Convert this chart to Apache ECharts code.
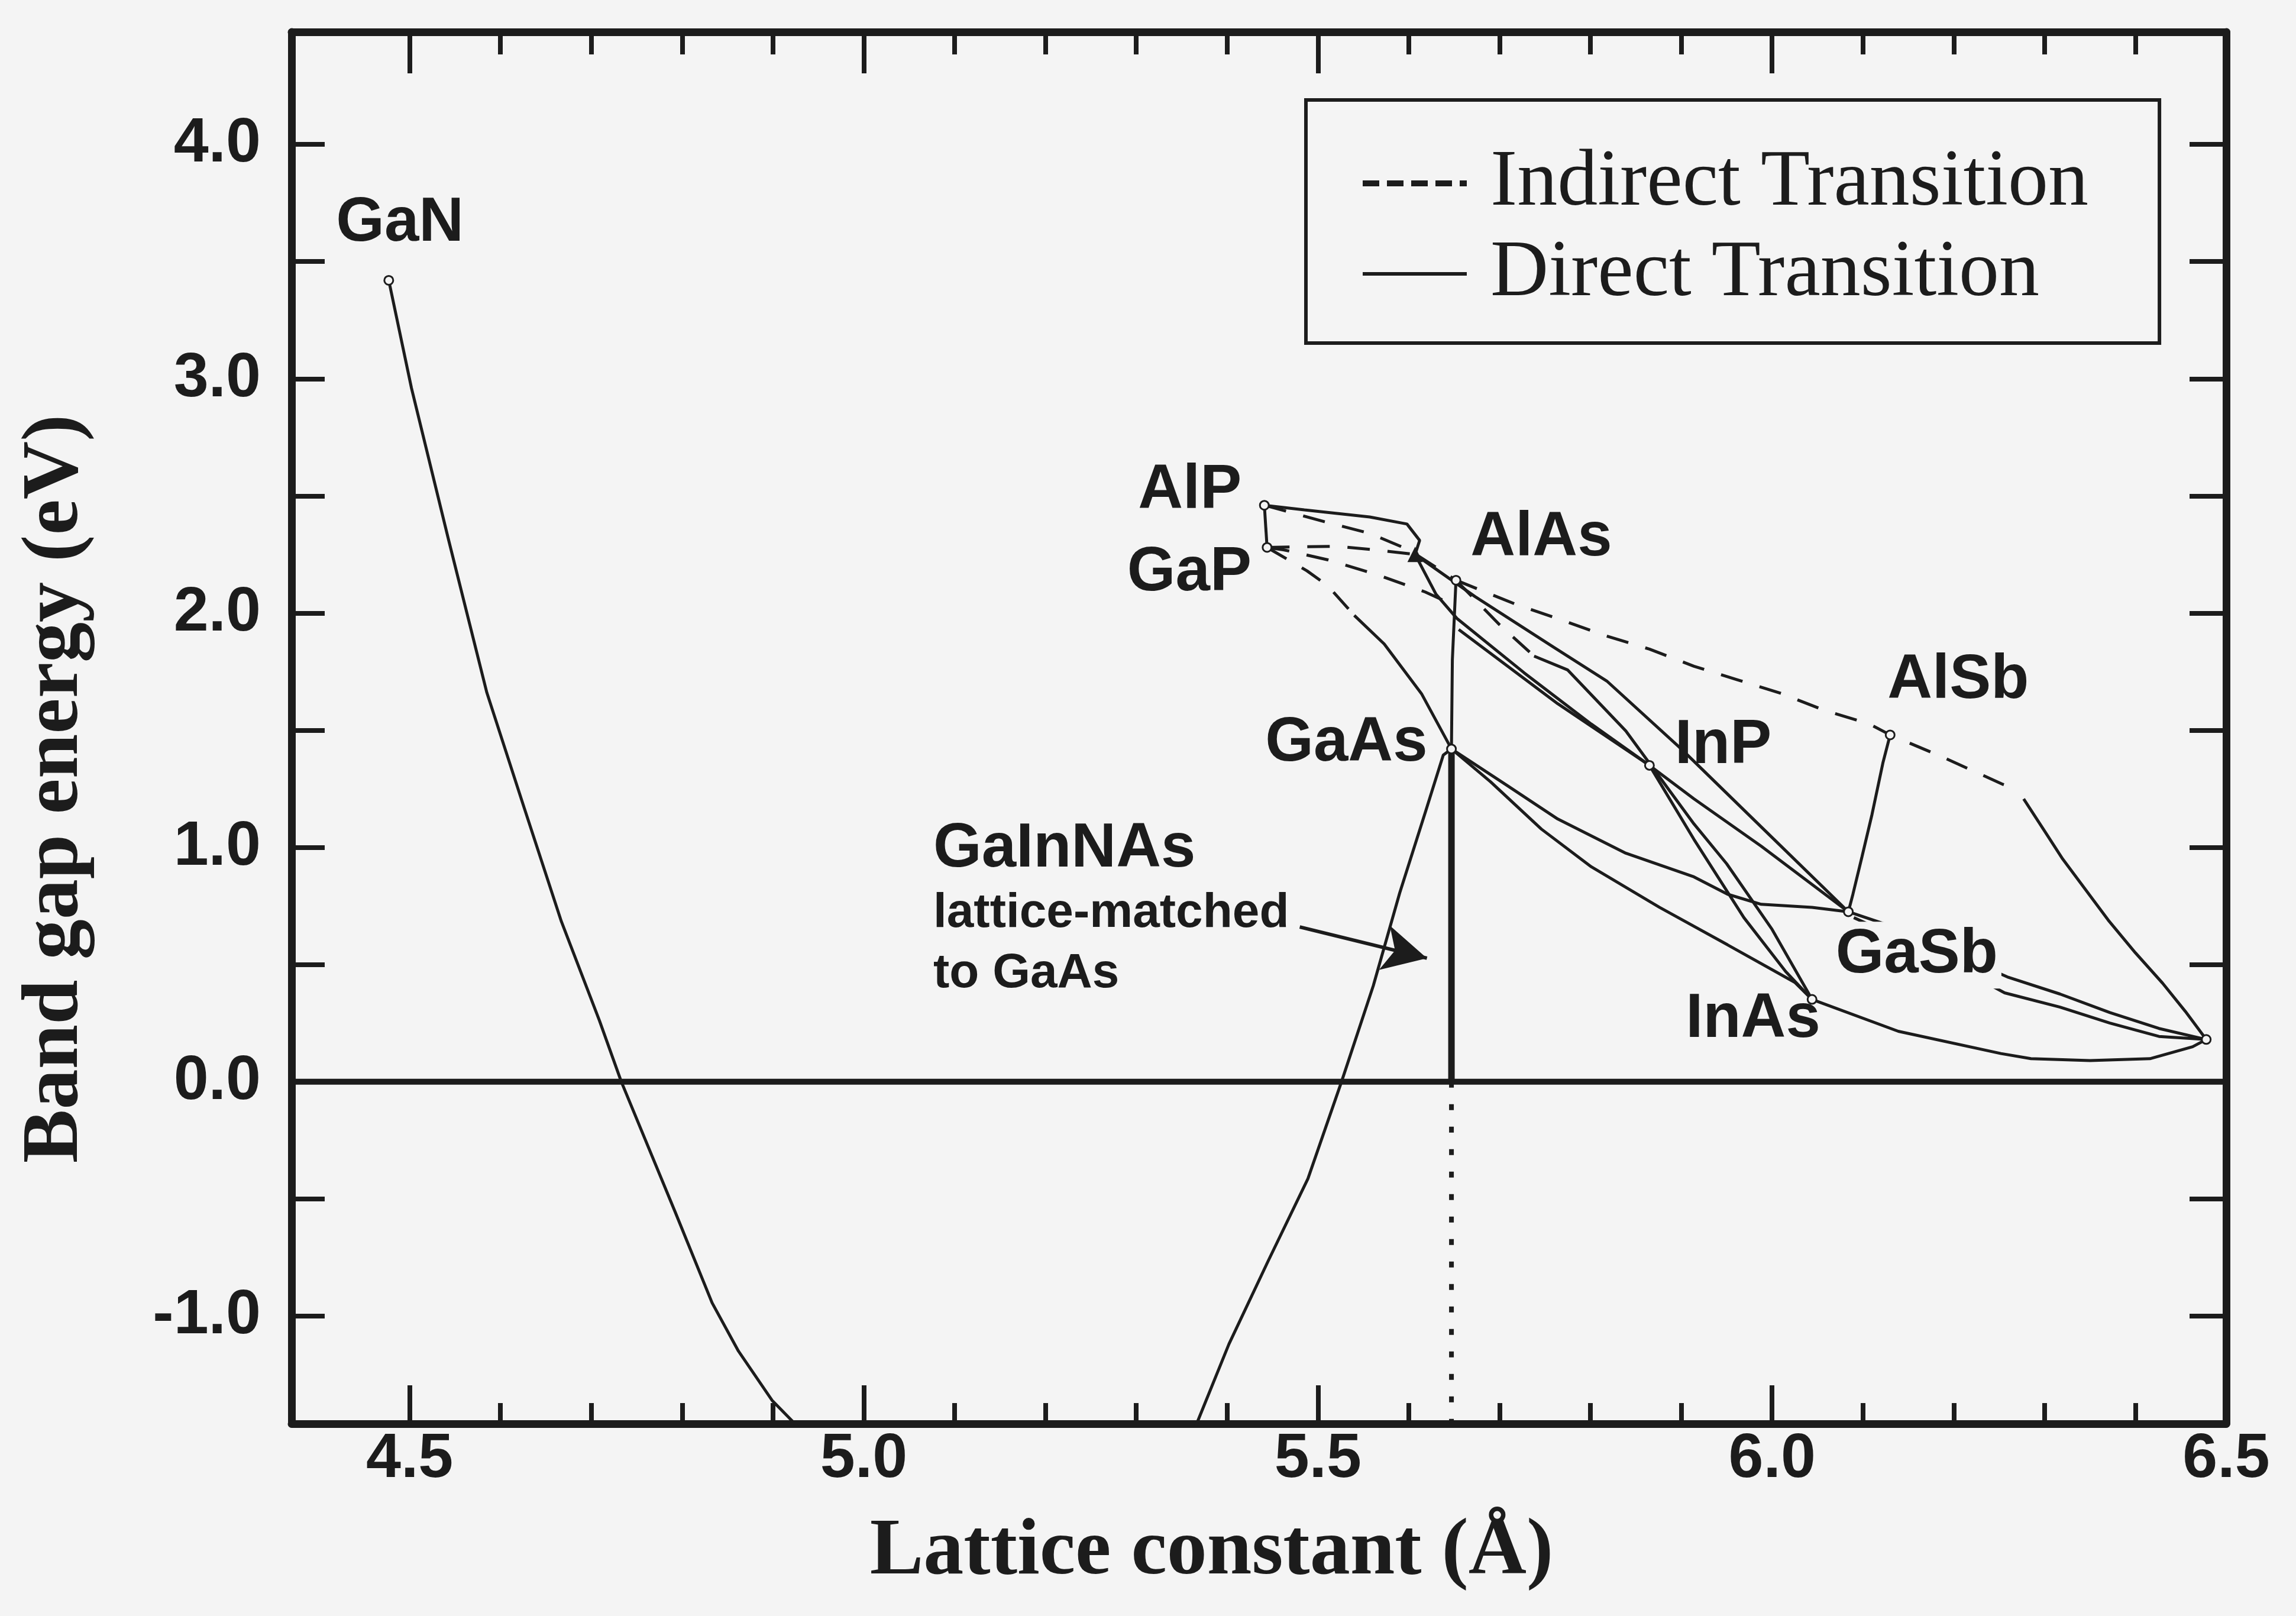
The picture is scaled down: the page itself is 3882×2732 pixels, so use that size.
<!DOCTYPE html>
<html><head><meta charset="utf-8">
<script src="https://cdn.jsdelivr.net/npm/echarts@6/dist/echarts.min.js"></script>
<style>html,body{margin:0;padding:0;background:#f4f4f4}#c{width:3882px;height:2732px}</style>
</head><body><div id="c"></div><script>
// ---------- axis ticks / labels ----------
const xTickMajor = [4.5, 5.0, 5.5, 6.0];
const xTickMinor = [4.6, 4.7, 4.8, 4.9, 5.1, 5.2, 5.3, 5.4, 5.6, 5.7, 5.8, 5.9, 6.1, 6.2, 6.3, 6.4];
const xLabelValues = [4.5, 5.0, 5.5, 6.0, 6.5];
const yTicks = [-1.0, -0.5, 0, 0.5, 1.0, 1.5, 2.0, 2.5, 3.0, 3.5, 4.0];
const yLabelValues = [-1.0, 0, 1.0, 2.0, 3.0, 4.0];

// ---------- curves (lattice constant Å, band gap eV) ----------
const ganSide = [[4.477,3.42],[4.502,2.96],[4.543,2.31],[4.585,1.66],[4.626,1.17],[4.667,0.684],[4.709,0.26],[4.733,0.0],[4.792,-0.553],[4.833,-0.944],[4.862,-1.15],[4.899,-1.36],[4.928,-1.475],[4.96,-1.57]];
const gaasSide = [[5.35,-1.62],[5.367,-1.455],[5.402,-1.12],[5.445,-0.767],[5.489,-0.414],[5.526,0.0],[5.561,0.41],[5.590,0.805],[5.619,1.159],[5.638,1.394],[5.647,1.42]];
const latticeMatched = [[5.647,0],[5.647,1.42]];
const latticeDotted = [[5.647,0],[5.647,-1.46]];
const zeroLine = [[4.37,0],[6.5,0]];
const alGaAs = [[5.647,1.42],[5.648,1.80],[5.652,2.14]];
const alAsAlSbIndirect = [[5.652,2.14],[5.720,2.034],[5.764,1.976],[5.816,1.904],[5.865,1.846],[5.914,1.773],[5.962,1.715],[6.010,1.657],[6.058,1.584],[6.107,1.527],[6.130,1.48],[6.188,1.385],[6.254,1.269],[6.272,1.245]];
const alInSb = [[6.277,1.207],[6.30,1.07],[6.32,0.95],[6.345,0.82],[6.37,0.69],[6.40,0.55],[6.43,0.42],[6.455,0.30],[6.478,0.18]];
const alGaSb = [[6.130,1.48],[6.122,1.36],[6.110,1.14],[6.099,0.96],[6.089,0.80],[6.084,0.725]];
const gaInSbA = [[6.084,0.725],[6.134,0.66],[6.259,0.447],[6.317,0.374],[6.372,0.295],[6.426,0.227],[6.478,0.18]];
const gaInSbB = [[6.09,0.70],[6.17,0.56],[6.256,0.379],[6.317,0.318],[6.372,0.25],[6.426,0.193],[6.478,0.18]];
const inAsSb = [[6.044,0.351],[6.139,0.215],[6.252,0.12],[6.285,0.098],[6.35,0.09],[6.416,0.098],[6.463,0.149],[6.478,0.18]];
const gaAsSb = [[5.647,1.42],[5.708,1.265],[5.764,1.121],[5.839,0.975],[5.914,0.874],[5.951,0.80],[5.988,0.757],[6.044,0.744],[6.084,0.725]];
const gaInAs = [[5.647,1.42],[5.690,1.28],[5.746,1.078],[5.801,0.917],[5.876,0.744],[5.951,0.584],[6.025,0.424],[6.044,0.351]];
const inAsP = [[5.865,1.35],[5.914,1.034],[5.969,0.70],[6.015,0.47],[6.044,0.351]];
const alInAsIndirect = [[5.652,2.14],[5.70,1.95],[5.738,1.816]];
const alInAs = [[5.738,1.816],[5.775,1.757],[5.839,1.497],[5.914,1.10],[5.95,0.93],[6.00,0.65],[6.044,0.351]];
const viaInP = [[5.655,1.93],[5.764,1.613],[5.865,1.35],[5.914,1.207],[5.988,1.005],[6.084,0.725]];
const toInP = [[5.607,2.25],[5.63,2.08],[5.653,1.977],[5.727,1.745],[5.801,1.526],[5.865,1.35]];
const toGaSb = [[5.607,2.25],[5.673,2.07],[5.76,1.853],[5.818,1.71],[5.90,1.42],[5.99,1.08],[6.084,0.725]];
const alpGap = [[5.441,2.46],[5.444,2.28]];
const alInP = [[5.441,2.46],[5.485,2.44],[5.557,2.41],[5.598,2.38],[5.612,2.31],[5.607,2.25]];
const gaAsPIndirect = [[5.444,2.28],[5.488,2.18],[5.511,2.116],[5.54,1.99]];
const gaAsP = [[5.54,1.99],[5.573,1.868],[5.614,1.656],[5.647,1.42]];
const gapAlAsIndirect = [[5.444,2.28],[5.462,2.27],[5.511,2.227],[5.568,2.16],[5.618,2.09],[5.652,2.03]];
const gaInPIndirect = [[5.444,2.28],[5.52,2.285],[5.567,2.268],[5.607,2.25]];
const alAsPIndirect = [[5.441,2.46],[5.507,2.39],[5.557,2.34],[5.60,2.27],[5.652,2.14]];

const binaryPoints = [[4.477,3.42],[5.441,2.46],[5.444,2.28],[5.652,2.14],[5.647,1.42],[5.865,1.35],[6.13,1.48],[6.084,0.725],[6.044,0.351],[6.478,0.18]];
const crossPoint = [[5.607,2.25]];

// ---------- text annotations: [text, left x, centre y] ----------
const compoundLabels = [['GaN',4.419,3.662],['AlP',5.302,2.52],['GaP',5.290,2.169],['AlAs',5.668,2.318],['AlSb',6.127,1.71],['InP',5.893,1.434],['GaAs',5.442,1.444],['GaSb',6.070,0.54],['InAs',5.905,0.265],['GaInNAs',5.0765,0.99]];
const noteLabels = [['lattice-matched',5.0765,0.717],['to GaAs',5.0765,0.46]];
const arrowFrom = [5.48, 0.66];
const arrowTo = [5.62, 0.527];

const INK = '#1c1c1c', BG = '#f4f4f4';
const indirectCurves = [alAsAlSbIndirect, alInAsIndirect, gaAsPIndirect, gapAlAsIndirect, gaInPIndirect, alAsPIndirect];
const directCurves = [ganSide, gaasSide, alGaAs, alInSb, alGaSb, gaInSbA, gaInSbB, inAsSb, gaAsSb, gaInAs, inAsP, alInAs, viaInP, toInP, toGaSb, alpGap, alInP, gaAsP];

const series = [];
indirectCurves.forEach(d => series.push({type:'line', name:'Indirect Transition', data:d, symbol:'none', clip:true,
  itemStyle:{color:INK}, lineStyle:{color:INK, width:5, type:[38,30]}}));
directCurves.forEach(d => series.push({type:'line', name:'Direct Transition', data:d, symbol:'none', clip:true,
  itemStyle:{color:INK}, lineStyle:{color:INK, width:5}}));
series.push({type:'line', name:'zero', data:zeroLine, symbol:'none', lineStyle:{color:INK, width:10}});
series.push({type:'line', name:'matched', data:latticeMatched, symbol:'none', lineStyle:{color:INK, width:11}});
series.push({type:'line', name:'dotted', data:latticeDotted, symbol:'none', lineStyle:{color:INK, width:8, type:[10,28]}});
series.push({type:'scatter', name:'points', data:binaryPoints, symbol:'circle', symbolSize:15,
  itemStyle:{color:BG, borderColor:INK, borderWidth:3, opacity:1}, z:4});
series.push({type:'scatter', name:'cross', data:crossPoint, symbol:'triangle', symbolSize:26, itemStyle:{color:INK, opacity:1}, z:4});
series.push({type:'line', name:'arrow', data:[], symbol:'none',
  markLine:{silent:true, symbol:['none','arrow'], symbolSize:[58,74], label:{show:false},
    itemStyle:{color:INK}, lineStyle:{color:INK, width:6, type:'solid'},
    data:[[{coord:arrowFrom},{coord:arrowTo}]]}});
series.push({type:'scatter', name:'labels', symbolSize:0, z:10, silent:true, itemStyle:{opacity:1, color:INK},
  data: compoundLabels.map(d => ({value:[d[1], d[2]], name:d[0],
    label: d[0]==='GaSb' ? {backgroundColor:BG, padding:[4,6,4,0]} : {}})),
  label:{show:true, position:'right', distance:0, formatter:'{b}', fontFamily:'Liberation Sans', fontWeight:'bold', fontSize:105, color:INK, opacity:1}});
series.push({type:'scatter', name:'notes', symbolSize:0, z:10, silent:true, itemStyle:{opacity:1, color:INK},
  data: noteLabels.map(d => ({value:[d[1], d[2]], name:d[0]})),
  label:{show:true, position:'right', distance:0, formatter:'{b}', fontFamily:'Liberation Sans', fontWeight:'bold', fontSize:82, color:INK, opacity:1}});

const axisLineStyle = {show:true, onZero:false, lineStyle:{color:INK, width:13}};
const xBase = {type:'value', min:4.37, max:6.5, gridIndex:0, splitLine:{show:false}};
const yBase = {type:'value', min:-1.46, max:4.48, gridIndex:0, splitLine:{show:false}};

const option = {
  backgroundColor: BG,
  color: [INK],
  animation: false,
  grid: {left:493, right:118, top:54, bottom:325, containLabel:false},
  legend: {
    left:2208, top:169, orient:'vertical', itemGap:17, itemWidth:176, itemHeight:14,
    padding:[73,120,49,91], borderColor:INK, borderWidth:6, backgroundColor:BG,
    selectedMode:false,
    textStyle:{fontFamily:'Liberation Serif', fontSize:136, color:INK, lineHeight:136, padding:[0,0,0,35]},
    data:[{name:'Indirect Transition', itemStyle:{color:INK, opacity:0}, lineStyle:{color:INK, type:[28,13], width:10}},
          {name:'Direct Transition', itemStyle:{color:INK, opacity:0}, lineStyle:{color:INK, width:6}}]
  },
  xAxis: [
    Object.assign({}, xBase, {position:'bottom', axisLine:axisLineStyle,
      axisTick:{show:true, inside:true, length:65, customValues:xTickMajor, lineStyle:{color:INK, width:8}},
      axisLabel:{show:true, customValues:xLabelValues, formatter:v=>v.toFixed(1), margin:8,
        fontFamily:'Liberation Sans', fontWeight:'bold', fontSize:106, color:INK},
      name:'Lattice constant (Å)', nameLocation:'middle', nameGap:150,
      nameTextStyle:{fontFamily:'Liberation Serif', fontWeight:'bold', fontSize:136, color:INK, padding:[0,160,0,0]}}),
    Object.assign({}, xBase, {position:'bottom', axisLine:{show:false, onZero:false},
      axisTick:{show:true, inside:true, length:35, customValues:xTickMinor, lineStyle:{color:INK, width:8}},
      axisLabel:{show:false}}),
    Object.assign({}, xBase, {position:'top', axisLine:axisLineStyle,
      axisTick:{show:true, inside:true, length:70, customValues:xTickMajor, lineStyle:{color:INK, width:8}},
      axisLabel:{show:false}}),
    Object.assign({}, xBase, {position:'top', axisLine:{show:false, onZero:false},
      axisTick:{show:true, inside:true, length:38, customValues:xTickMinor, lineStyle:{color:INK, width:8}},
      axisLabel:{show:false}})
  ],
  yAxis: [
    Object.assign({}, yBase, {position:'left', axisLine:axisLineStyle,
      axisTick:{show:true, inside:true, length:56, customValues:yTicks, lineStyle:{color:INK, width:8}},
      axisLabel:{show:true, customValues:yLabelValues, formatter:v=>v.toFixed(1), margin:52,
        fontFamily:'Liberation Sans', fontWeight:'bold', fontSize:106, color:INK},
      name:'Band gap energy (eV)', nameLocation:'middle', nameGap:330, nameRotate:90,
      nameTextStyle:{fontFamily:'Liberation Serif', fontWeight:'bold', fontSize:136, color:INK, padding:[0,206,0,0]}}),
    Object.assign({}, yBase, {position:'right', axisLine:axisLineStyle,
      axisTick:{show:true, inside:true, length:62, customValues:yTicks, lineStyle:{color:INK, width:8}},
      axisLabel:{show:false}})
  ],
  series: series
};
const chart = echarts.init(document.getElementById('c'), null, {renderer:'canvas'});
chart.setOption(option);
</script></body></html>
